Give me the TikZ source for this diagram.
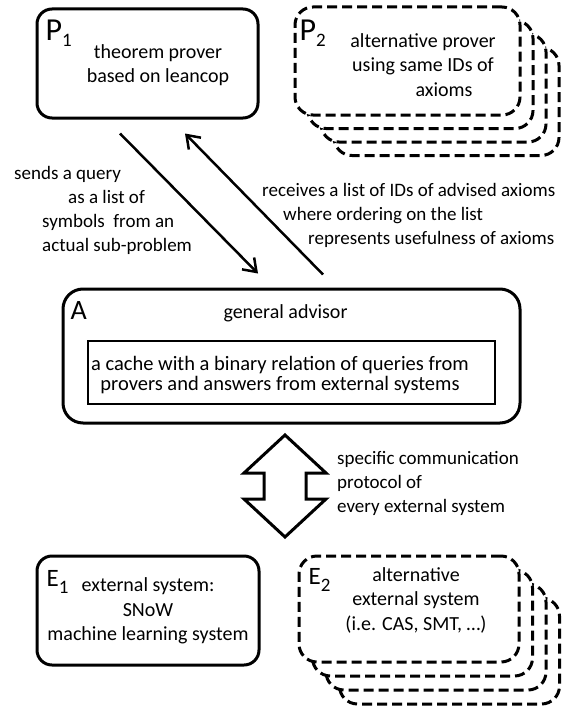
\documentclass[tikz,border=0pt]{standalone}
\usepackage{fontspec}
\setmainfont{Carlito}
\usetikzlibrary{arrows.meta,positioning}

\newcommand{\boxtag}[3]{{\fontsize{#1}{#1}\selectfont #2}\raisebox{-6.5pt}{#3}}

\tikzset{
	sysbox/.style={draw, line width=3pt, rounded corners=15pt, fill=white, inner sep=0pt},
	altbox/.style={sysbox, dash pattern=on 10pt off 5pt, rounded corners=18pt},
	boxtext/.style={align=center, inner sep=0pt, font=\fontsize{20}{24.5}\selectfont},
	lbltext/.style={align=left, inner sep=0pt, anchor=west, font=\fontsize{19}{24}\selectfont},
	tagtext/.style={anchor=base west, inner sep=0pt, font=\fontsize{19}{19}\selectfont},
	flow/.style={-{Straight Barb[length=12pt,width=17pt]}, line width=2.5pt},
	protoarrow/.style={draw, line width=3pt, fill=white}
}

\begin{document}
\begin{tikzpicture}[x=1pt,y=-1pt]
	\useasboundingbox (0,0) rectangle (571,709);

	%provers
	\node[sysbox, minimum width=221pt, minimum height=109pt] (P1) at (147.5,63.5) {};
		\node[tagtext] (P1tag) at ([shift={(10,33)}]P1.north west) {\boxtag{32}{P}{1}};
		\node[boxtext] (P1text) at (158,65) {theorem prover\\based on leancop};
	\foreach \k in {3,2,1}
		\node[altbox, minimum width=225pt, minimum height=108pt] (P2back\k) at (407.5+13*\k,61+13.5*\k) {};
	\node[altbox, minimum width=225pt, minimum height=108pt] (P2) at (407.5,61) {};
		\node[tagtext] (P2tag) at ([shift={(6,35)}]P2.north west) {\boxtag{32}{P}{2}};
		\node[boxtext] (P2text) at (423,65) {alternative prover\\using same IDs of\\\hspace*{42pt}axioms};

	%advisor with its cache
	\node[sysbox, rounded corners=20pt, minimum width=457pt, minimum height=134pt] (A) at (291.5,356) {};
		\node[tagtext] (Atag) at ([shift={(9,32)}]A.north west) {\boxtag{28}{A}{}};
		\node[boxtext] (Atext) at (285.5,313) {general advisor};
	\node[draw, line width=2pt, minimum width=407pt, minimum height=63pt] (cache) at (291.5,372.5) {};
		\node[boxtext, font=\fontsize{20.5}{20}\selectfont] (cachetext) at (280,375)
			{a cache with a binary relation of queries from\\provers and answers from external systems};

	%query and answer
	\draw[flow] ([shift={(-27.5,14)}]P1.south) -- ([shift={(-33.5,-14)}]A.north);		%query down
	\draw[flow] ([shift={(31.5,-13)}]A.north) -- ([shift={(37.5,14)}]P1.south);		%answer up
	\node[lbltext] (querylbl) at (14,210) {sends a query\\\hspace*{54pt}as a list of\\\hspace*{28pt}symbols\ \ from an\\\hspace*{28pt}actual sub-problem};
	\node[lbltext] (answerlbl) at (262,215) {receives a list of IDs of advised axioms\\\hspace*{21pt}where ordering on the list\\\hspace*{46pt}represents usefulness of axioms};

	%protocol
	\coordinate (proto) at (285,486);
	\draw[protoarrow] (proto) ++(0,-51) -- ++(41,38) -- ++(-20,0) -- ++(0,26) -- ++(20,0) -- ++(-41,38)
		-- ++(-41,-38) -- ++(20,0) -- ++(0,-26) -- ++(-20,0) -- cycle;
	\node[lbltext] (protolbl) at (337,483) {specific communication\\protocol of\\every external system};

	%external systems
	\node[sysbox, minimum width=222pt, minimum height=109pt] (E1) at (148,610.5) {};
		\node[tagtext] (E1tag) at ([shift={(11,32)}]E1.north west) {\boxtag{25}{E}{1}};
		\node[boxtext] (E1text) at (148,611) {external system:\\SNoW\\machine learning system};
	\foreach \k in {3,2,1}
		\node[altbox, minimum width=220pt, minimum height=106pt] (E2back\k) at (409+13.5*\k,609+14*\k) {};
	\node[altbox, minimum width=220pt, minimum height=106pt] (E2) at (409,609) {};
		\node[tagtext] (E2tag) at ([shift={(11,30)}]E2.north west) {\boxtag{25}{E}{2}};
		\node[boxtext] (E2text) at (416,600) {alternative\\external system\\(i.e. CAS, SMT, …)};
\end{tikzpicture}
\end{document}
